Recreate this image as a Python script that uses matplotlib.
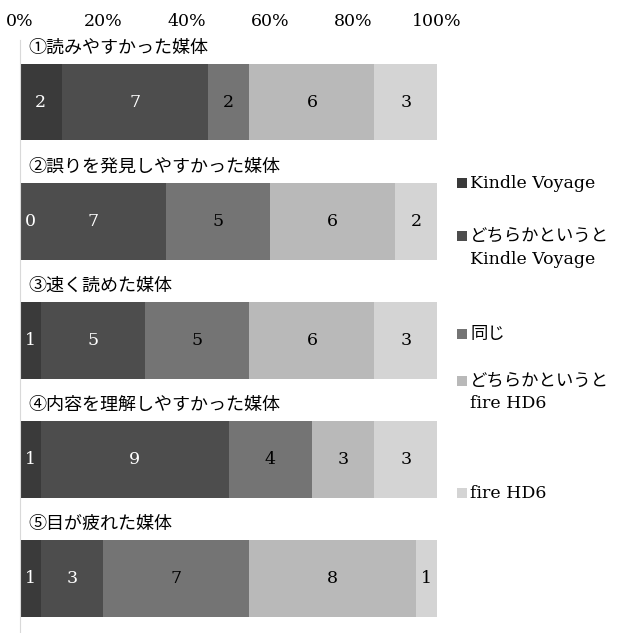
import numpy as np
import matplotlib.pyplot as plt
from matplotlib.patches import Rectangle

plt.rcParams['font.family'] = ['DejaVu Serif', 'Noto Sans CJK JP']

titles = ['①読みやすかった媒体', '②誤りを発見しやすかった媒体', '③速く読めた媒体',
          '④内容を理解しやすかった媒体', '⑤目が疲れた媒体']
labels = ['Kindle Voyage', 'どちらかというと\nKindle Voyage', '同じ',
          'どちらかというと\nfire HD6', 'fire HD6']
colors = ['#3a3a3a', '#4d4d4d', '#747474', '#b9b9b9', '#d4d4d4']
text_colors = ['white', 'white', 'black', 'black', 'black']

kindle = [2, 0, 1, 1, 1]
rather_kindle = [7, 7, 5, 9, 3]
same = [2, 5, 5, 4, 7]
rather_fire = [6, 6, 6, 3, 8]
fire = [3, 2, 3, 3, 1]

counts = np.array([kindle, rather_kindle, same, rather_fire, fire], dtype=float)
totals = counts.sum(axis=0)
pct = counts / totals * 100

W, H = 619, 633
fig = plt.figure(figsize=(W / 100, H / 100), dpi=100)
ax = fig.add_axes([20 / W, 0, (437 - 20) / W, (H - 40) / H])

y = np.arange(len(titles))
left = np.zeros(len(titles))
for k in range(len(labels)):
    ax.barh(y, pct[k], left=left, height=0.647, color=colors[k], linewidth=0)
    for i in range(len(titles)):
        xc = left[i] + pct[k][i] / 2
        if counts[k][i] == 0:
            xc = 2.5  # Excel nudges the empty segment's label inside
        ax.text(xc, y[i], f'{int(counts[k][i])}',
                ha='center', va='center', fontsize=12.5, color=text_colors[k])
    left += pct[k]

for i, t in enumerate(titles):
    ax.text(2, y[i] - 0.455, t, ha='left', va='center', fontsize=13,
            family=['Noto Sans CJK JP', 'DejaVu Sans'])

ax.set_xlim(0, 100)
ax.set_ylim(4.462, -0.521)
ax.xaxis.tick_top()
ax.set_xticks(np.arange(0, 101, 20))
ax.set_xticklabels([f'{v}%' for v in range(0, 101, 20)], fontsize=12.5)
ax.tick_params(axis='x', length=0, pad=7)
ax.set_yticks([])
for s in ['top', 'right', 'bottom']:
    ax.spines[s].set_visible(False)
ax.spines['left'].set_color('#d9d9d9')

# legend drawn by hand to match the uneven spacing
leg_y = [183, 236, 334, 381, 493]
for k, lab in enumerate(labels):
    yy = leg_y[k]
    fig.add_artist(Rectangle((457 / W, 1 - (yy + 5) / H), 10 / W, 10 / H,
                             transform=fig.transFigure, color=colors[k], lw=0))
    for j, line in enumerate(lab.split('\n')):
        fig.text(470 / W, 1 - (yy + j * 23) / H, line, ha='left', va='center',
                 fontsize=12.5)

fig.savefig('out.png', dpi=100)
